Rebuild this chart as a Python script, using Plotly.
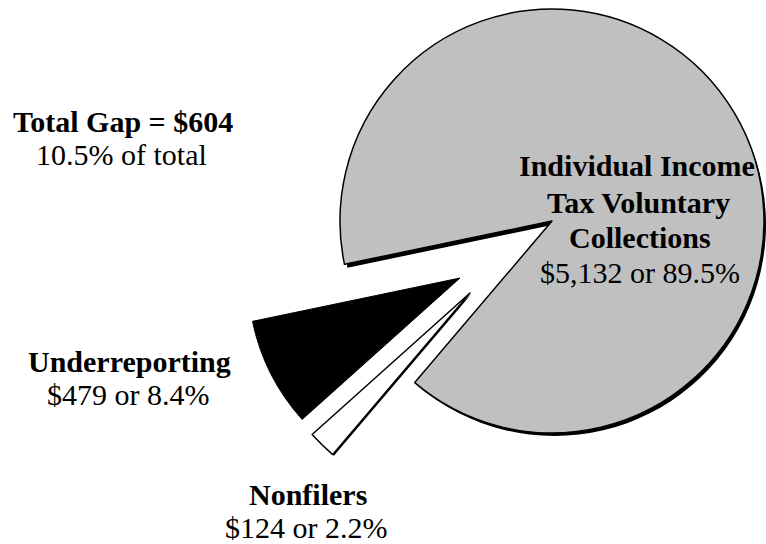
import plotly.graph_objects as go

# ---------------- data ----------------
labels = ["Individual Income Tax Voluntary Collections", "Nonfilers", "Underreporting"]
values = [5132, 124, 479]                      # $ billions
slice_colors = ["#C0C0C0", "#FFFFFF", "#000000"]
label_lines = [["Individual Income", "Tax Voluntary", "Collections"], ["Nonfilers"], ["Underreporting"]]
gap_title = "Total Gap = $604"

# ---------------- geometry / style ----------------
W, H = 766, 544
R = 212
START_ANGLE = 191.8            # math angle (deg) where the sequence starts
ROT = 90 - START_ANGLE         # plotly rotation (clockwise from 12 o'clock)
FONT = "Liberation Serif"
FS = 30

total = sum(values)
pcts = [v / total * 100 for v in values]
gap_pct = (values[1] + values[2]) / total * 100


def dom(cx, cy, r):
    return dict(x=[max(0.0, (cx - r) / W), min(1.0, (cx + r) / W)],
                y=[max(0.0, 1 - (cy + r) / H), min(1.0, 1 - (cy - r) / H)])


def pie(idx, center, color=None, line_w=1.5):
    cols, lws = [], []
    for i in range(len(values)):
        if i == idx:
            cols.append(color if color else slice_colors[i])
            lws.append(line_w)
        else:
            cols.append("rgba(0,0,0,0)")
            lws.append(0)
    return go.Pie(labels=labels, values=values, sort=False, direction="clockwise",
                  rotation=ROT, textinfo="none", hoverinfo="skip", showlegend=False,
                  marker=dict(colors=cols, line=dict(color="#000000", width=lws)),
                  domain=dom(center[0], center[1], R))


gray_c = (552, 221)
white_c = (470, 293)
black_c = (460, 278)

fig = go.Figure()
fig.add_trace(pie(0, (gray_c[0] + 3, gray_c[1] + 3.5), color="#000000", line_w=0))
fig.add_trace(pie(0, gray_c, line_w=1.5))
fig.add_trace(pie(2, black_c, line_w=1))
fig.add_trace(pie(1, (white_c[0] + 1.2, white_c[1] + 1.2), color="#000000", line_w=0))
fig.add_trace(pie(1, white_c, line_w=1.5))


def money(v, p):
    return f"${v:,} or {p:.1f}%"


texts = [
    # (text, center x px, baseline y px, bold)
    (gap_title, 123, 132, True),
    (f"{gap_pct:.1f}% of total", 121, 165, False),
    (label_lines[2][0], 129.5, 372, True),
    (money(values[2], pcts[2]), 127.5, 405, False),
    (label_lines[1][0], 308, 505, True),
    (money(values[1], pcts[1]), 306, 538, False),
    (label_lines[0][0], 637, 176, True),
    (label_lines[0][1], 638, 213, True),
    (label_lines[0][2], 640, 247.5, True),
    (money(values[0], pcts[0]), 640, 283, False),
]

annotations = []
for t, x, base, bold in texts:
    annotations.append(dict(
        text=f"<b>{t}</b>" if bold else t,
        x=x / W, y=1 - (base - 0.3375 * FS) / H, xref="paper", yref="paper",
        xanchor="center", yanchor="middle", showarrow=False,
        font=dict(family=FONT, size=FS, color="#000000")))

fig.update_layout(width=W, height=H, margin=dict(l=0, r=0, t=0, b=0),
                  paper_bgcolor="#FFFFFF", plot_bgcolor="#FFFFFF",
                  annotations=annotations)

fig.write_html("out.html", config={"displayModeBar": False})
